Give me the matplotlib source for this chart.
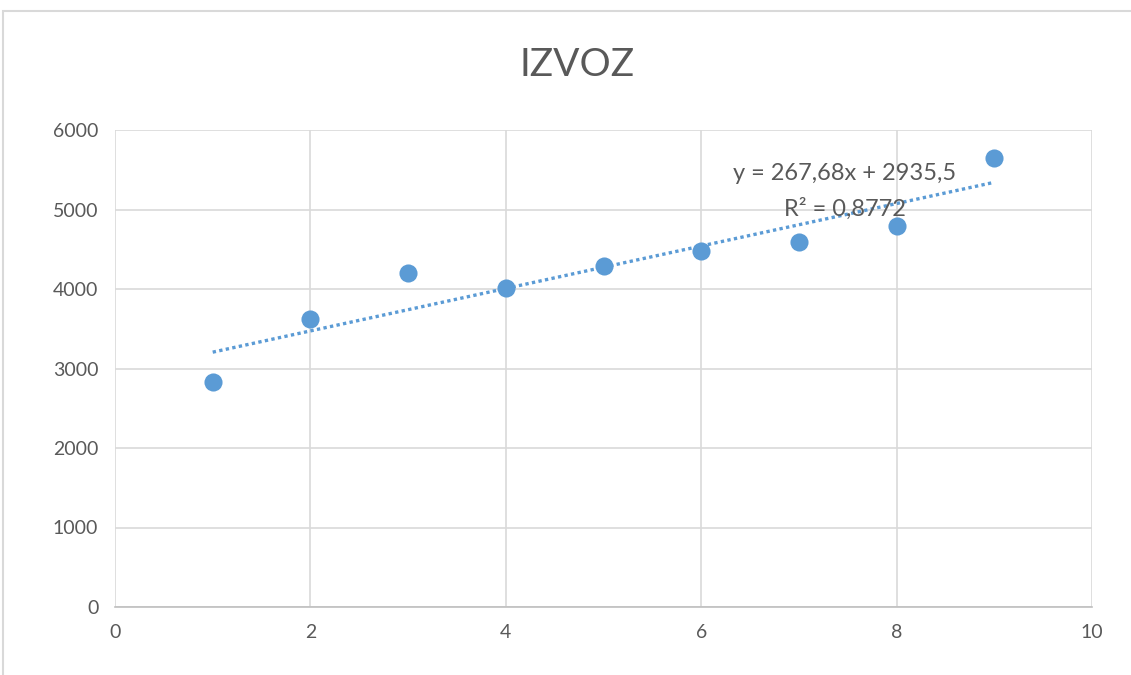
import numpy as np
import matplotlib
matplotlib.use('Agg')
import matplotlib.pyplot as plt
from matplotlib.patches import Rectangle

# data
years = [1, 2, 3, 4, 5, 6, 7, 8, 9]
izvoz = [2830, 3623, 4201, 4013, 4289, 4478, 4591, 4792, 5648]
x_ticks = [0, 2, 4, 6, 8, 10]
y_ticks = [0, 1000, 2000, 3000, 4000, 5000, 6000]
eq_text = "y = 267,68x + 2935,5"
r2_text = "R² = 0,8772"

blue = '#5B9BD5'
grid_c = '#D9D9D9'
txt_c = '#595959'

plt.rcParams['font.family'] = ['Lato', 'DejaVu Sans']

fig = plt.figure(figsize=(11.31, 6.75), dpi=100)
ax = fig.add_axes([115/1131, 1 - 607/675, (1092 - 115)/1131, (607 - 130)/675])

# outer chart border (cropped on right/bottom)
fig.patches.append(Rectangle((3/1131, -0.1), 1.2, 1.1 - 11/675,
                             transform=fig.transFigure, fill=False,
                             edgecolor=grid_c, linewidth=1.5))

ax.scatter(years, izvoz, s=170, color=blue, zorder=3, linewidths=0)

# linear trend line
k, b = np.polyfit(years, izvoz, 1)
xs = np.array([years[0], years[-1]])
ax.plot(xs, k*xs + b, linestyle=(0, (1, 1)), color=blue, linewidth=2.4, zorder=2)

ax.text(7.47, 5450, eq_text, ha='center', va='center', fontsize=17, color=txt_c, zorder=4)
ax.text(7.47, 5010, r2_text, ha='center', va='center', fontsize=17, color=txt_c, zorder=4)

ax.set_xlim(0, 10)
ax.set_ylim(0, 6000)
ax.set_xticks(x_ticks)
ax.set_yticks(y_ticks)
ax.grid(True, color=grid_c, linewidth=1.2)
ax.set_axisbelow(True)
for s in ['top', 'right', 'left']:
    ax.spines[s].set_visible(False)
ax.spines['bottom'].set_color('#BFBFBF')
ax.spines['bottom'].set_linewidth(1.2)
ax.tick_params(length=0, labelsize=14, colors=txt_c, pad=12)

fig.text(577/1131, 1 - 65/675, "IZVOZ", ha='center', va='center', fontsize=28, color=txt_c)

fig.savefig('out.png', dpi=100)
